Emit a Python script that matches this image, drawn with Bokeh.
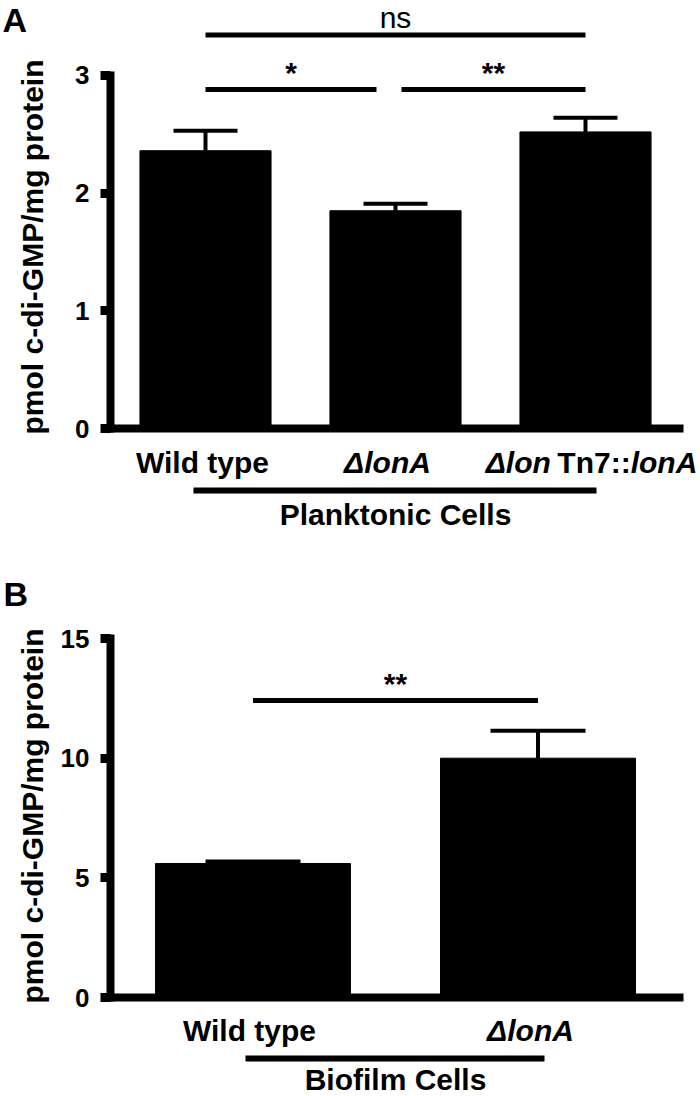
import math
from bokeh.plotting import figure
from bokeh.layouts import column
from bokeh.models import FixedTicker, ColumnDataSource
from bokeh.core.properties import value
from bokeh.embed import file_html
from bokeh.resources import INLINE

# ---------------- data ----------------
a_categories = ["Wild type", "ΔlonA", "Δlon Tn7::lonA"]
a_label_parts = [
    [("Wild type", "bold")],
    [("ΔlonA", "bold italic")],
    [("Δlon", "bold italic"), (" Tn7::", "bold"), ("lonA", "bold italic")],
]
a_means = [2.36, 1.85, 2.52]
a_errors = [0.17, 0.06, 0.12]
a_y_ticks = [0, 1, 2, 3]
a_group_label = "Planktonic Cells"
a_comparisons = [(0, 2, "ns"), (0, 1, "*"), (1, 2, "**")]

b_categories = ["Wild type", "ΔlonA"]
b_label_parts = [
    [("Wild type", "bold")],
    [("ΔlonA", "bold italic")],
]
b_means = [5.6, 10.0]
b_errors = [0.08, 1.15]
b_y_ticks = [0, 5, 10, 15]
b_group_label = "Biofilm Cells"
b_comparisons = [(0, 1, "**")]

y_title = "pmol c-di-GMP/mg protein"

# ---------------- styling / layout ----------------
FONT = "Liberation Sans"
W = 700
LABEL_PX = 30
MID = 0.3465  # middle of the em box above the baseline, in em
# approximate Arial-Bold advance widths (em) for laying out mixed-style labels
EM = {' ': 0.278, 'T': 0.611, 'n': 0.611, '7': 0.556, ':': 0.333, 'l': 0.278,
      'o': 0.611, 'A': 0.722, 'Δ': 0.612}


def text_w(s):
    return sum(EM.get(c, 0.6) for c in s) * LABEL_PX


def build_panel(letter, categories, label_parts, means, errors, y_ticks,
                group_label, comparisons, lay):
    n = len(categories)
    xs = list(range(n))
    x0, pxx = lay["x0_px"], lay["px_x"]
    y0, pxy = lay["y0_px"], lay["px_y"]
    H = lay["height"]

    def X(px):
        return (px - x0) / pxx

    def Y(py):
        return (y0 - py) / pxy

    def mid(baseline_py, size):
        return Y(baseline_py - MID * size)

    p = figure(width=W, height=H, x_range=(X(0), X(W)), y_range=(Y(H), Y(0)),
               output_backend="svg", toolbar_location=None,
               min_border_left=0, min_border_right=0,
               min_border_top=0, min_border_bottom=0)
    p.outline_line_color = None
    p.grid.visible = False
    p.background_fill_color = "white"
    p.border_fill_color = "white"

    # y axis
    ya = p.yaxis[0]
    ya.fixed_location = X(lay["axis_px"])
    ya.ticker = FixedTicker(ticks=y_ticks)
    ya.bounds = (y_ticks[0], y_ticks[-1])
    ya.axis_line_width = 8
    ya.axis_line_cap = "square"
    ya.major_tick_line_width = 9
    ya.major_tick_out = 10
    ya.major_tick_in = 0
    ya.minor_tick_line_color = None
    ya.minor_tick_out = 0
    ya.minor_tick_in = 0
    ya.major_label_text_font = FONT
    ya.major_label_text_font_style = "bold"
    ya.major_label_text_font_size = lay["tick_px"]
    ya.major_label_text_color = "black"
    ya.major_label_standoff = 11

    # x axis at y = 0
    xa = p.xaxis[0]
    xa.fixed_location = 0
    xa.bounds = (X(lay["axis_px"]), X(lay["xaxis_end_px"]))
    xa.ticker = FixedTicker(ticks=[])
    xa.axis_line_width = 8
    xa.axis_line_cap = "square"
    xa.major_tick_line_color = None
    xa.minor_tick_line_color = None
    xa.major_tick_out = 0
    xa.minor_tick_out = 0
    xa.major_tick_in = 0
    xa.minor_tick_in = 0
    xa.major_label_standoff = 0
    xa.major_label_text_font_size = "0px"

    # bars + error bars
    cap_half = lay["cap_px"] / pxx
    src = ColumnDataSource(dict(
        x=xs, top=means,
        err_top=[m + e for m, e in zip(means, errors)],
        cap_l=[x - cap_half for x in xs],
        cap_r=[x + cap_half for x in xs],
    ))
    p.vbar(x="x", top="top", bottom=0, width=lay["bar_w"], source=src,
           fill_color="black", line_color="black")
    p.segment(x0="x", y0="top", x1="x", y1="err_top", source=src,
              line_color="black", line_width=4)
    p.segment(x0="cap_l", y0="err_top", x1="cap_r", y1="err_top", source=src,
              line_color="black", line_width=4)

    # significance brackets
    for k, (i, j, txt) in enumerate(comparisons):
        lvl = lay["sig_levels"][k]
        tl, tr = lay["sig_trims"][k]
        sx0, sx1 = xs[i] + tl / pxx, xs[j] - tr / pxx
        p.segment(x0=[sx0], y0=[lvl], x1=[sx1], y1=[lvl], line_color="black",
                  line_width=5)
        is_ns = txt == "ns"
        line_py = y0 - lvl * pxy
        base_py = line_py - 7
        p.text(x=[(sx0 + sx1) / 2], y=[mid(base_py, 30)], text=[txt],
               text_align="center", text_baseline="middle",
               text_font=value(FONT),
               text_font_style="normal" if is_ns else "bold",
               text_font_size="30px", text_color="black")

    # category labels (mixed styles)
    ly = mid(lay["label_base"], LABEL_PX)
    for i, parts in enumerate(label_parts):
        nudge = lay["label_nudge"][i]
        if len(parts) == 1:
            s, st = parts[0]
            p.text(x=[xs[i]], y=[ly], text=[s], x_offset=nudge,
                   text_align="center", text_baseline="middle",
                   text_font=value(FONT), text_font_style=st,
                   text_font_size=f"{LABEL_PX}px", text_color="black")
        else:
            total = sum(text_w(s) for s, _ in parts)
            cur = -total / 2 + nudge
            for s, st in parts:
                lead = len(s) - len(s.lstrip(" "))
                cur += text_w(" " * lead)
                s2 = s.lstrip(" ")
                p.text(x=[xs[i]], y=[ly], text=[s2], x_offset=cur,
                       text_align="left", text_baseline="middle",
                       text_font=value(FONT), text_font_style=st,
                       text_font_size=f"{LABEL_PX}px", text_color="black")
                cur += text_w(s2)

    # group bracket and label
    pl, pr = lay["group_pad_px"]
    gy = Y(lay["group_line_py"])
    p.segment(x0=[xs[0] - pl / pxx], y0=[gy], x1=[xs[-1] + pr / pxx], y1=[gy],
              line_color="black", line_width=6)
    p.text(x=[(xs[0] + xs[-1]) / 2], y=[mid(lay["group_base"], LABEL_PX)],
           text=[group_label], text_align="center", text_baseline="middle",
           text_font=value(FONT), text_font_style="bold",
           text_font_size=f"{LABEL_PX}px", text_color="black")

    # y title (rotated) and panel letter
    tx_base, ty_c = lay["title_px"]
    p.text(x=[X(tx_base - MID * 30)], y=[Y(ty_c)], text=[y_title],
           angle=math.pi / 2, text_align="center", text_baseline="middle",
           text_font=value(FONT), text_font_style="bold",
           text_font_size="30px", text_color="black")
    lx, lb = lay["letter_px"]
    p.text(x=[X(lx)], y=[mid(lb, 34)], text=[letter], text_align="left",
           text_baseline="middle", text_font=value(FONT),
           text_font_style="bold", text_font_size="34px", text_color="black")
    return p


lay_a = dict(
    height=532, x0_px=205, px_x=190, y0_px=428, px_y=117.7,
    axis_px=110, xaxis_end_px=679, tick_px="26px",
    bar_w=0.69, cap_px=32,
    sig_levels=[3.343, 2.88, 2.88], sig_trims=[(0, 0), (0, 19), (6, 0)],
    label_base=472, label_nudge=[-3, -8, 6],
    group_pad_px=(12, 11), group_line_py=490, group_base=524,
    title_px=(42, 246.5), letter_px=(2, 31),
)
lay_b = dict(
    height=564, x0_px=252.5, px_x=285, y0_px=465, px_y=23.93,
    axis_px=110, xaxis_end_px=679, tick_px="26px",
    bar_w=0.684, cap_px=47.5,
    sig_levels=[12.41], sig_trims=[(0, 0)],
    label_base=508.5, label_nudge=[-3.5, -7.5],
    group_pad_px=(7.5, 6.5), group_line_py=526, group_base=557,
    title_px=(42, 283.5), letter_px=(3, 73),
)

pa = build_panel("A", a_categories, a_label_parts, a_means, a_errors,
                 a_y_ticks, a_group_label, a_comparisons, lay_a)
pb = build_panel("B", b_categories, b_label_parts, b_means, b_errors,
                 b_y_ticks, b_group_label, b_comparisons, lay_b)

layout = column(pa, pb)
open("out.html", "w").write(file_html(layout, INLINE))
